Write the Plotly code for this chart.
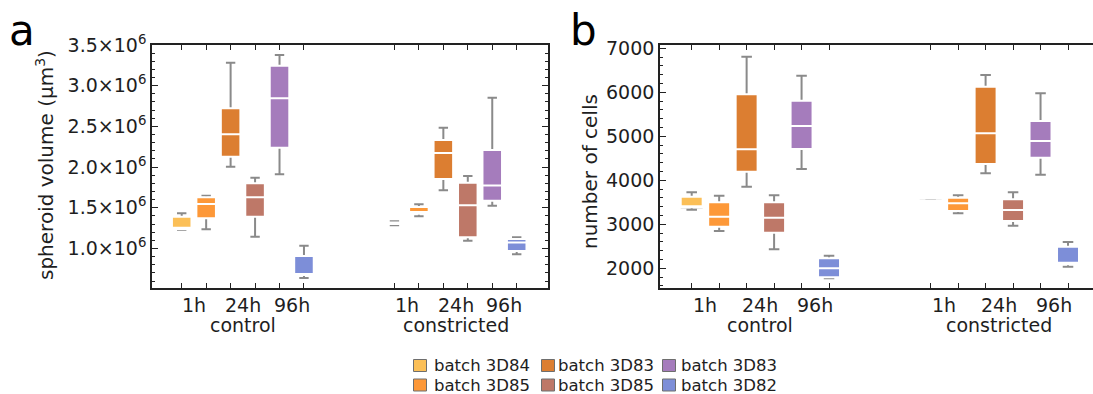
import plotly.graph_objects as go

# ---- categories ----
time_labels = ["1h", "24h", "96h"]
conditions = ["control", "constricted"]

# one box per batch inside each condition (1h, 1h, 24h, 24h, 96h, 96h)
batch_names = ["batch 3D84", "batch 3D85", "batch 3D83", "batch 3D85", "batch 3D83", "batch 3D82"]
batch_colors = ["#FBBF57", "#FD9838", "#DC7E31", "#BE7868", "#A57CBC", "#7D8ED8"]

# ---- spheroid volume (µm³): 6 control boxes, then 6 constricted boxes ----
vol_lo  = [1.227e6, 1.236e6, 2.005e6, 1.145e6, 1.912e6, 0.638e6,
           1.286e6, 1.397e6, 1.716e6, 1.096e6, 1.525e6, 0.929e6]
vol_q1  = [1.236e6, 1.371e6, 2.128e6, 1.391e6, 2.238e6, 0.674e6,
           1.301e6, 1.428e6, 1.854e6, 1.138e6, 1.586e6, 0.969e6]
vol_med = [1.256e6, 1.547e6, 2.403e6, 1.629e6, 2.845e6, 0.680e6,
           1.310e6, 1.448e6, 2.173e6, 1.531e6, 1.774e6, 1.074e6]
vol_q3  = [1.391e6, 1.629e6, 2.722e6, 1.801e6, 3.246e6, 0.908e6,
           1.319e6, 1.510e6, 2.333e6, 1.808e6, 2.210e6, 1.117e6]
vol_hi  = [1.432e6, 1.649e6, 3.283e6, 1.870e6, 3.377e6, 1.034e6,
           1.334e6, 1.544e6, 2.483e6, 1.891e6, 2.853e6, 1.138e6]

# ---- number of cells ----
cells_lo  = [3331, 2847, 3854, 2431, 4256, 1772, 3580, 3250, 4159, 2968, 4127, 2036]
cells_q1  = [3386, 2945, 4195, 2809, 4711, 1795, 3585, 3302, 4370, 3075, 4513, 2090]
cells_med = [3390, 3172, 4704, 3150, 5234, 1999, 3590, 3477, 5068, 3325, 4893, 2127]
cells_q3  = [3627, 3500, 5954, 3500, 5809, 2227, 3595, 3604, 6127, 3568, 5348, 2490]
cells_hi  = [3727, 3650, 6809, 3659, 6377, 2286, 3600, 3659, 6393, 3727, 5977, 2597]

# ---- y tick labels ----
vol_tickvals = [1.0e6, 1.5e6, 2.0e6, 2.5e6, 3.0e6, 3.5e6]
vol_ticktext = ["1.0×10<sup>6</sup>", "1.5×10<sup>6</sup>", "2.0×10<sup>6</sup>",
                "2.5×10<sup>6</sup>", "3.0×10<sup>6</sup>", "3.5×10<sup>6</sup>"]
cells_tickvals = [2000, 3000, 4000, 5000, 6000, 7000]

FONT = "DejaVu Sans, sans-serif"
TXT = "#1e1e1e"
W, H = 1093, 394
GROUP_GAP = 8.7          # x offset of the second condition group
BOX_W = 0.8
WHISKER = "#8a8a8a"

n = len(batch_names)
xpos = [[i, GROUP_GAP + i] for i in range(n)]

fig = go.Figure()


def add_panel(xa, ya, lo, q1, med, q3, hi):
    for i in range(n):
        pick = lambda arr: [arr[i], arr[n + i]]
        # whiskers and caps (grey), running from the median out to the fences
        fig.add_trace(go.Box(
            x=xpos[i], q1=pick(med), median=pick(med), q3=pick(med),
            lowerfence=pick(lo), upperfence=pick(hi),
            width=BOX_W, whiskerwidth=0.48,
            line=dict(color=WHISKER, width=2), fillcolor="rgba(0,0,0,0)",
            boxpoints=False, showlegend=False, hoverinfo="skip",
            xaxis=xa, yaxis=ya))
        # coloured interquartile box with white outline and median
        fig.add_trace(go.Box(
            x=xpos[i], q1=pick(q1), median=pick(med), q3=pick(q3),
            lowerfence=pick(q1), upperfence=pick(q3),
            width=BOX_W, whiskerwidth=0,
            line=dict(color="white", width=2), fillcolor=batch_colors[i],
            boxpoints=False, showlegend=False, name=batch_names[i],
            xaxis=xa, yaxis=ya))


add_panel("x", "y", vol_lo, vol_q1, vol_med, vol_q3, vol_hi)
add_panel("x2", "y2", cells_lo, cells_q1, cells_med, cells_q3, cells_hi)


def px_x(p):
    return p / W


def px_y(p):
    return (H - p) / H


ydom = [px_y(288), px_y(45)]
all_x = [v for pair in xpos for v in pair]

frame = dict(showline=True, linecolor="#222", linewidth=1.6, showgrid=False,
             zeroline=False, ticks="inside", tickcolor="#222", tickwidth=1.3)

xcommon = dict(frame, tickvals=sorted(all_x), ticktext=[""] * len(all_x),
               ticklen=5, mirror="allticks")

fig.update_layout(
    width=W, height=H, margin=dict(l=0, r=0, t=0, b=0, autoexpand=False),
    paper_bgcolor="white", plot_bgcolor="white",
    boxmode="overlay", showlegend=False,
    font=dict(family=FONT, color=TXT, size=19),
    xaxis=dict(xcommon, domain=[px_x(152), px_x(548)], range=[-1.215, 14.98],
               anchor="y"),
    xaxis2=dict(xcommon, domain=[px_x(660), 1.0], range=[-1.154, 14.61],
                anchor="y2"),
    yaxis=dict(frame, domain=ydom, range=[0.515e6, 3.5e6], anchor="x",
               mirror="allticks", tickvals=vol_tickvals, ticktext=vol_ticktext,
               ticklen=6, tickfont=dict(size=19, family=FONT, color=TXT),
               minor=dict(tickmode="linear", tick0=0, dtick=1e5, ticks="inside",
                          ticklen=3, tickcolor="#222", tickwidth=1)),
    yaxis2=dict(frame, domain=ydom, range=[1552, 7075], anchor="x2",
                mirror=False, tickvals=cells_tickvals, ticklen=6,
                tickfont=dict(size=19, family=FONT, color=TXT),
                minor=dict(tickmode="linear", tick0=0, dtick=200, ticks="inside",
                           ticklen=3, tickcolor="#222", tickwidth=1)),
)

ann = []
shapes = []
# time labels under each pair of boxes, condition names beneath
for xa in ("x", "x2"):
    for g, cond in enumerate(conditions):
        base = g * GROUP_GAP
        for k, lab in enumerate(time_labels):
            ann.append(dict(x=base + 2 * k + 0.5, y=px_y(305), xref=xa, yref="paper",
                            text=lab, showarrow=False, xanchor="center",
                            yanchor="middle", font=dict(size=19)))
        ann.append(dict(x=base + 2.5, y=px_y(325), xref=xa, yref="paper",
                        text=cond, showarrow=False, xanchor="center",
                        yanchor="middle", font=dict(size=19)))

# axis titles
ann.append(dict(x=px_x(45), y=px_y(165), xref="paper", yref="paper",
                text="spheroid volume (µm<sup>3</sup>)", textangle=-90,
                showarrow=False, xanchor="center", yanchor="middle",
                font=dict(size=20)))
ann.append(dict(x=px_x(590), y=px_y(172), xref="paper", yref="paper",
                text="number of cells", textangle=-90,
                showarrow=False, xanchor="center", yanchor="middle",
                font=dict(size=20)))
# panel letters
ann.append(dict(x=px_x(22), y=px_y(31), xref="paper", yref="paper", text="a",
                showarrow=False, xanchor="center", yanchor="middle",
                font=dict(size=42, color="black")))
ann.append(dict(x=px_x(583), y=px_y(31), xref="paper", yref="paper", text="b",
                showarrow=False, xanchor="center", yanchor="middle",
                font=dict(size=42, color="black")))

# legend: three columns, two rows (column-major order of the batches)
leg_swatch_cx = [420, 548, 669]
leg_text_x = [432, 556, 679]
leg_row_cy = [365.5, 385]
for i in range(n):
    col, row = i // 2, i % 2
    cx, cy = leg_swatch_cx[col], leg_row_cy[row]
    shapes.append(dict(type="rect", xref="paper", yref="paper",
                       x0=px_x(cx - 6.5), x1=px_x(cx + 6.5),
                       y0=px_y(cy + 6), y1=px_y(cy - 6),
                       fillcolor=batch_colors[i], line=dict(color="#6e6e6e", width=1)))
    ann.append(dict(x=px_x(leg_text_x[col]), y=px_y(cy), xref="paper", yref="paper",
                    text=batch_names[i], showarrow=False, xanchor="left",
                    yanchor="middle", font=dict(size=16.5)))

fig.update_layout(annotations=ann, shapes=shapes)

fig.write_html("out.html")
